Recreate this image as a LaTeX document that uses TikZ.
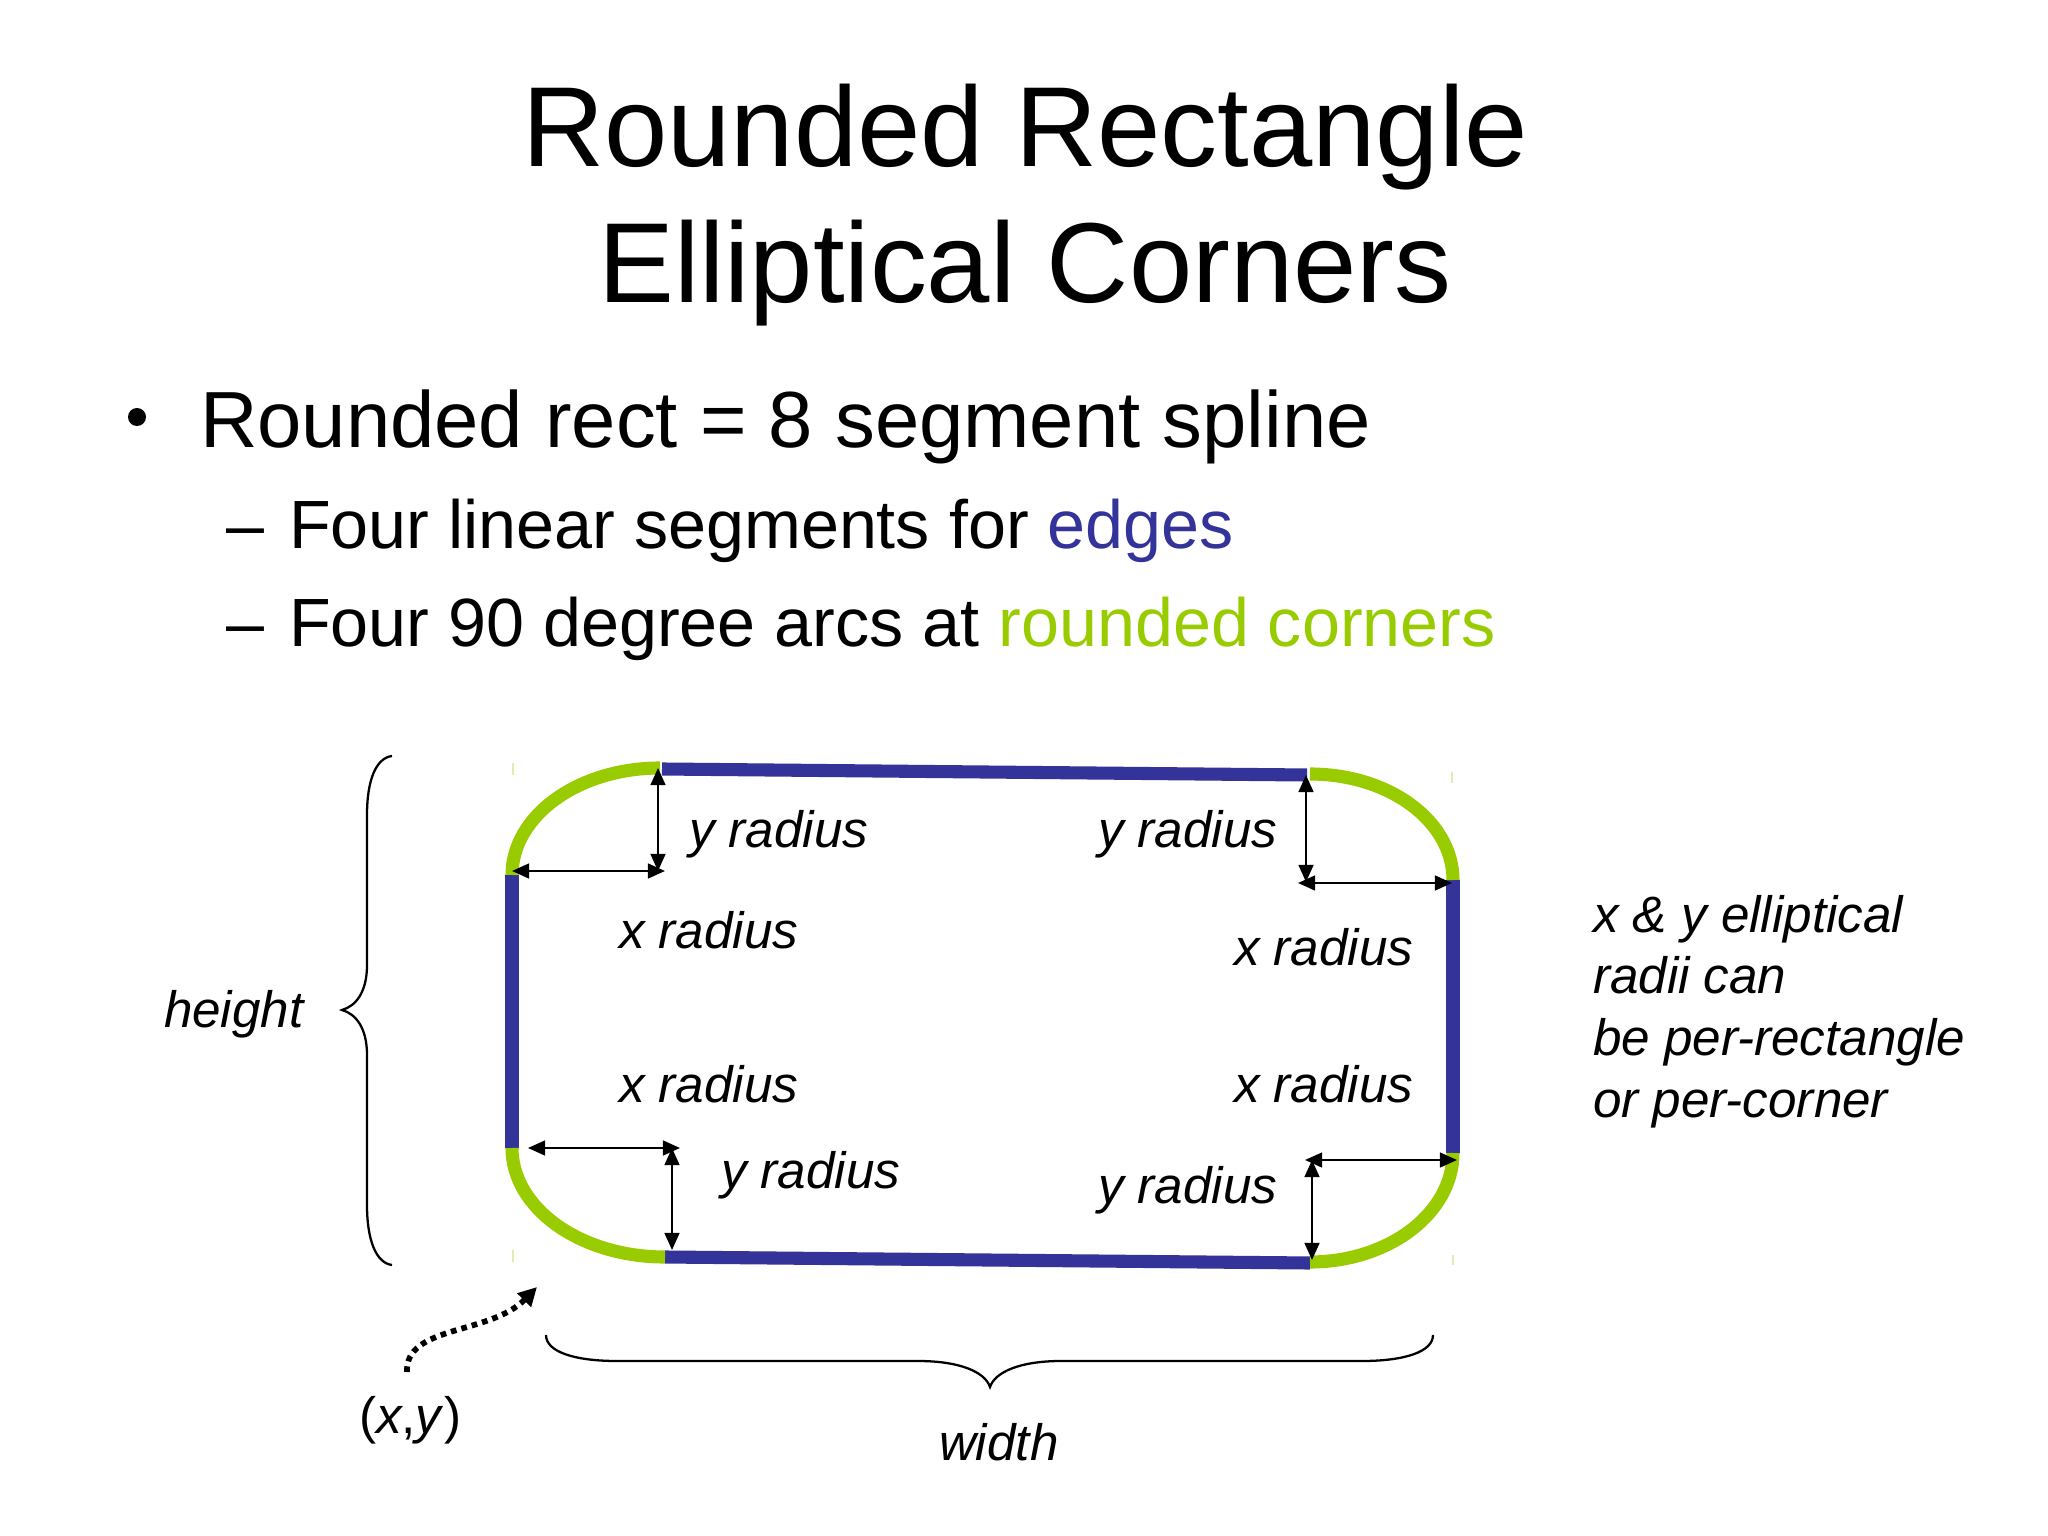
\documentclass[tikz,border=0pt]{standalone}
\usepackage{fontspec}
\setmainfont{Liberation Sans}
\usetikzlibrary{arrows.meta}
\definecolor{edgeblue}{RGB}{51,51,153}
\definecolor{cornergreen}{RGB}{153,204,0}
\definecolor{tickgreen}{RGB}{222,238,175}
\begin{document}
\begin{tikzpicture}[x=0.3515625pt,y=-0.3515625pt,
  txt/.style={inner sep=0pt, outer sep=0pt, anchor=base west},
  titletxt/.style={inner sep=0pt, outer sep=0pt, anchor=base, font=\fontsize{40}{48}\selectfont},
  bul/.style={txt, font=\fontsize{28}{34}\selectfont},
  subbul/.style={txt, font=\fontsize{24}{29}\selectfont},
  lbl/.style={txt, font=\fontsize{18}{21.6}\selectfont\itshape},
  edgeline/.style={draw=edgeblue, line width=4.6pt, line cap=butt},
  cornerarc/.style={draw=cornergreen, line width=4.6pt, line cap=butt},
  dimarrow/.style={draw=black, line width=0.75pt, {Triangle[length=6pt,width=5.2pt]}-{Triangle[length=6pt,width=5.2pt]}},
  bracepath/.style={draw=black, line width=0.8pt},
  cornertick/.style={draw=tickgreen, line width=0.6pt}
]
\useasboundingbox[fill=white] (0,0) rectangle (2048,1536);

% ---- title ----
\node[titletxt] (title1) at (1025,167) {Rounded Rectangle};
\node[titletxt] (title2) at (1025,303) {Elliptical Corners};

% ---- bullets ----
\fill[black] (137,417) circle[radius=9] coordinate (bulletdot);
\node[bul] (b1) at (200,448) {Rounded rect = 8 segment spline};
\node[subbul] (d1) at (226,549) {–};
\node[subbul] (s1) at (289,549) {Four linear segments for \textcolor{edgeblue}{edges}};
\node[subbul] (d2) at (226,647) {–};
\node[subbul] (s2) at (289,647) {Four 90 degree arcs at \textcolor{cornergreen}{rounded corners}};

% ---- rounded rectangle geometry ----
\coordinate (tlA) at (512,875);
\coordinate (tlB) at (660,768);
\coordinate (trA) at (1310,774);
\coordinate (trB) at (1453,880);
\coordinate (blA) at (512,1148);
\coordinate (blB) at (665,1257);
\coordinate (brA) at (1453,1153);
\coordinate (brB) at (1310,1262);

\coordinate (topL) at (662,769);
\coordinate (topR) at (1307,775);
\coordinate (botL) at (665,1257);
\coordinate (botR) at (1310,1263);

% edges
\draw[edgeline] (topL) -- (topR);
\draw[edgeline] (tlA) -- (blA);
\draw[edgeline] (trB) -- (brA);
\draw[edgeline] (botL) -- (botR);

% corners
\draw[cornerarc] (tlA) .. controls (512,816) and (578,768) .. (tlB);
\draw[cornerarc] (trA) .. controls (1389,774) and (1453,821) .. (trB);
\draw[cornerarc] (blA) .. controls (512,1208) and (580,1257) .. (blB);
\draw[cornerarc] (brA) .. controls (1453,1213) and (1389,1262) .. (brB);

% faint bounding ticks
\coordinate (tk1a) at (513,763); \coordinate (tk1b) at (513,775);
\coordinate (tk2a) at (1452,772); \coordinate (tk2b) at (1452,783);
\coordinate (tk3a) at (513,1250); \coordinate (tk3b) at (513,1262);
\coordinate (tk4a) at (1453,1255); \coordinate (tk4b) at (1453,1265);
\draw[cornertick] (tk1a) -- (tk1b);
\draw[cornertick] (tk2a) -- (tk2b);
\draw[cornertick] (tk3a) -- (tk3b);
\draw[cornertick] (tk4a) -- (tk4b);

% dimension arrows
\coordinate (tlv1) at (658,768);  \coordinate (tlv2) at (658,871);
\coordinate (tlh1) at (512,871);  \coordinate (tlh2) at (665,871);
\coordinate (trv1) at (1306,775); \coordinate (trv2) at (1306,882);
\coordinate (trh1) at (1298,883); \coordinate (trh2) at (1452,883);
\coordinate (blh1) at (528,1148); \coordinate (blh2) at (680,1148);
\coordinate (blv1) at (672,1148); \coordinate (blv2) at (672,1250);
\coordinate (brh1) at (1305,1160); \coordinate (brh2) at (1457,1160);
\coordinate (brv1) at (1312,1160); \coordinate (brv2) at (1312,1260);
\draw[dimarrow] (tlv1) -- (tlv2);
\draw[dimarrow] (tlh1) -- (tlh2);
\draw[dimarrow] (trv1) -- (trv2);
\draw[dimarrow] (trh1) -- (trh2);
\draw[dimarrow] (blh1) -- (blh2);
\draw[dimarrow] (blv1) -- (blv2);
\draw[dimarrow] (brh1) -- (brh2);
\draw[dimarrow] (brv1) -- (brv2);

% labels
\node[lbl] (ytl) at (689,847) {y radius};
\node[lbl] (ytr) at (1098,847) {y radius};
\node[lbl] (xul) at (619,948) {x radius};
\node[lbl] (xur) at (1234,965) {x radius};
\node[lbl] (xll) at (619,1102) {x radius};
\node[lbl] (xlr) at (1234,1102) {x radius};
\node[lbl] (yll) at (721,1188) {y radius};
\node[lbl] (ylr) at (1098,1203) {y radius};
\node[lbl] (hgt) at (164,1027) {height};
\node[lbl] (wdt) at (939,1460) {width};
\node[txt, font=\fontsize{18}{21.6}\selectfont] (xy) at (359,1433) {(\textit{x},\textit{y})};

\node[lbl] (n1) at (1593,932) {x \& y elliptical};
\node[lbl] (n2) at (1593,993) {radii can};
\node[lbl] (n3) at (1593,1055) {be per-rectangle};
\node[lbl] (n4) at (1593,1117) {or per-corner};

% height brace
\coordinate (hbTop) at (392,756);
\coordinate (hbMid) at (342,1010);
\coordinate (hbBot) at (392,1265);
\draw[bracepath] (hbTop) .. controls (376,758) and (367,780) .. (367,815)
  -- (367,965) .. controls (367,992) and (356,1006) .. (hbMid)
  .. controls (356,1014) and (367,1028) .. (367,1055)
  -- (367,1205) .. controls (367,1240) and (376,1263) .. (hbBot);

% width brace
\coordinate (wbL) at (546,1335);
\coordinate (wbMid) at (990,1387);
\coordinate (wbR) at (1433,1335);
\draw[bracepath] (wbL) .. controls (546,1352) and (575,1361) .. (617,1361)
  -- (918,1361) .. controls (960,1361) and (985,1372) .. (wbMid)
  .. controls (995,1372) and (1020,1361) .. (1061,1361)
  -- (1362,1361) .. controls (1404,1361) and (1433,1352) .. (wbR);

% dotted pointer to (x,y)
\coordinate (ptrStart) at (407,1372);
\coordinate (ptrEnd) at (537,1287);
\draw[line width=2pt, dash pattern=on 2pt off 1.8pt, -{Triangle[length=6.5pt,width=6.5pt]}]
  (ptrStart) .. controls (405,1325) and (490,1335) .. (ptrEnd);
\end{tikzpicture}
\end{document}
